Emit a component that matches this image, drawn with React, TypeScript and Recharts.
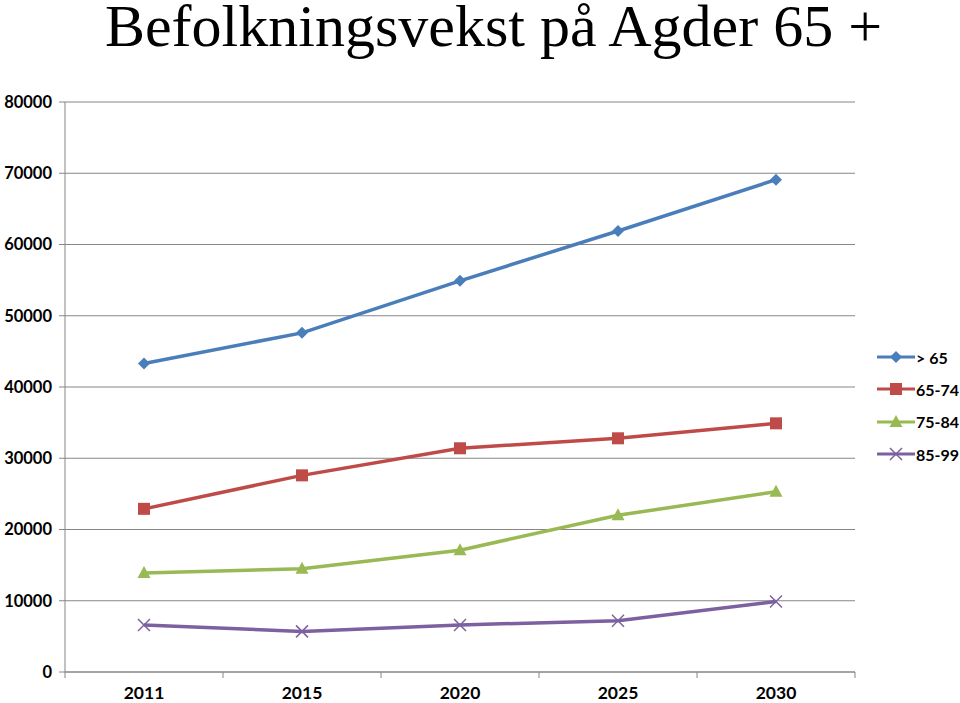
import React from 'react';
import { LineChart, Line, XAxis, YAxis, CartesianGrid } from 'recharts';

// Befolkningsvekst på Agder 65+
const years = ['2011', '2015', '2020', '2025', '2030'];
const over65 = [43300, 47600, 54900, 61900, 69100];
const age6574 = [22900, 27600, 31400, 32800, 34900];
const age7584 = [13900, 14500, 17100, 22000, 25300];
const age8599 = [6600, 5700, 6600, 7200, 9900];
const yTicks = [0, 10000, 20000, 30000, 40000, 50000, 60000, 70000, 80000];

const data = years.map((year, i) => ({
    year,
    over65: over65[i],
    age6574: age6574[i],
    age7584: age7584[i],
    age8599: age8599[i],
}));

const W = 960;
const H = 703;
const BAND = (W - 65 - 105) / years.length;
const LABEL_FONT = 'Lato, "Open Sans", sans-serif';

type Shape = 'diamond' | 'square' | 'triangle' | 'cross';

const SERIES: { key: string; name: string; color: string; shape: Shape }[] = [
    { key: 'over65', name: '> 65', color: '#4a7ebb', shape: 'diamond' },
    { key: 'age6574', name: '65-74', color: '#be4b48', shape: 'square' },
    { key: 'age7584', name: '75-84', color: '#98b954', shape: 'triangle' },
    { key: 'age8599', name: '85-99', color: '#7d60a0', shape: 'cross' },
];

function Marker({ cx, cy, shape, color }: { cx: number; cy: number; shape: Shape; color: string }) {
    if (cx == null || cy == null) return null;
    switch (shape) {
        case 'diamond':
            return <path d={`M${cx},${cy - 6} L${cx + 6},${cy} L${cx},${cy + 6} L${cx - 6},${cy} Z`} fill={color} />;
        case 'square':
            return <rect x={cx - 6} y={cy - 6} width={12} height={12} fill={color} />;
        case 'triangle':
            return <path d={`M${cx},${cy - 7} L${cx + 6.5},${cy + 5} L${cx - 6.5},${cy + 5} Z`} fill={color} />;
        default:
            return (
                <g stroke={color} strokeWidth={1.5}>
                    <line x1={cx - 6} y1={cy - 6} x2={cx + 6} y2={cy + 6} />
                    <line x1={cx - 6} y1={cy + 6} x2={cx + 6} y2={cy - 6} />
                </g>
            );
    }
}

const XTick = (props: any) => {
    const { x, y, payload, index } = props;
    const isLast = index === years.length - 1;
    return (
        <g>
            <line x1={x - BAND / 2} y1={y - 8} x2={x - BAND / 2} y2={y - 2} stroke="#868686" />
            {isLast && <line x1={x + BAND / 2} y1={y - 8} x2={x + BAND / 2} y2={y - 2} stroke="#868686" />}
            <text x={x} y={y + 19} textAnchor="middle" fontFamily={LABEL_FONT} fontWeight={700} fontSize={17.5} fill="#000">
                {payload.value}
            </text>
        </g>
    );
};

function LegendBox() {
    return (
        <div style={{ position: 'absolute', left: 877, top: 341, whiteSpace: 'nowrap' }}>
            {SERIES.map((s) => (
                <div key={s.key} style={{ display: 'flex', alignItems: 'center', height: 32.3 }}>
                    <svg width={38} height={20}>
                        <line x1={0} y1={10} x2={38} y2={10} stroke={s.color} strokeWidth={3} />
                        <Marker cx={19} cy={10} shape={s.shape} color={s.color} />
                    </svg>
                    <span style={{ fontFamily: LABEL_FONT, fontWeight: 700, fontSize: 16, marginLeft: 1 }}>{s.name}</span>
                </div>
            ))}
        </div>
    );
}

export default function App() {
    return (
        <div style={{ position: 'absolute', left: 0, top: 0, width: W, height: H, background: '#fff' }}>
            <div
                style={{
                    position: 'absolute',
                    left: 0,
                    top: 1,
                    width: 987,
                    textAlign: 'center',
                    fontFamily: '"Liberation Serif", "Times New Roman", serif',
                    fontSize: 60,
                    lineHeight: '50px',
                    color: '#000',
                    whiteSpace: 'nowrap',
                    zIndex: 1,
                }}
            >
                Befolkningsvekst på Agder 65 +
            </div>
            <LineChart width={W} height={H} data={data} margin={{ top: 102, right: 105, bottom: 0, left: 0 }}>
                <CartesianGrid vertical={false} stroke="#868686" />
                <XAxis
                    dataKey="year"
                    scale="band"
                    height={31}
                    axisLine={{ stroke: '#868686' }}
                    tickLine={false}
                    tick={<XTick />}
                    interval={0}
                />
                <YAxis
                    width={65}
                    domain={[0, 80000]}
                    ticks={yTicks}
                    axisLine={{ stroke: '#868686' }}
                    tickLine={{ stroke: '#868686' }}
                    tickSize={6}
                    tickMargin={7}
                    tick={{ fontFamily: LABEL_FONT, fontWeight: 700, fontSize: 16.5, fill: '#000' }}
                />
                {SERIES.map((s) => (
                    <Line
                        key={s.key}
                        type="linear"
                        dataKey={s.key}
                        name={s.name}
                        stroke={s.color}
                        strokeWidth={3.5}
                        isAnimationActive={false}
                        dot={(p: any) => <Marker key={`${s.key}-${p.index}`} cx={p.cx} cy={p.cy} shape={s.shape} color={s.color} />}
                        activeDot={false}
                    />
                ))}
            </LineChart>
            <LegendBox />
        </div>
    );
}
